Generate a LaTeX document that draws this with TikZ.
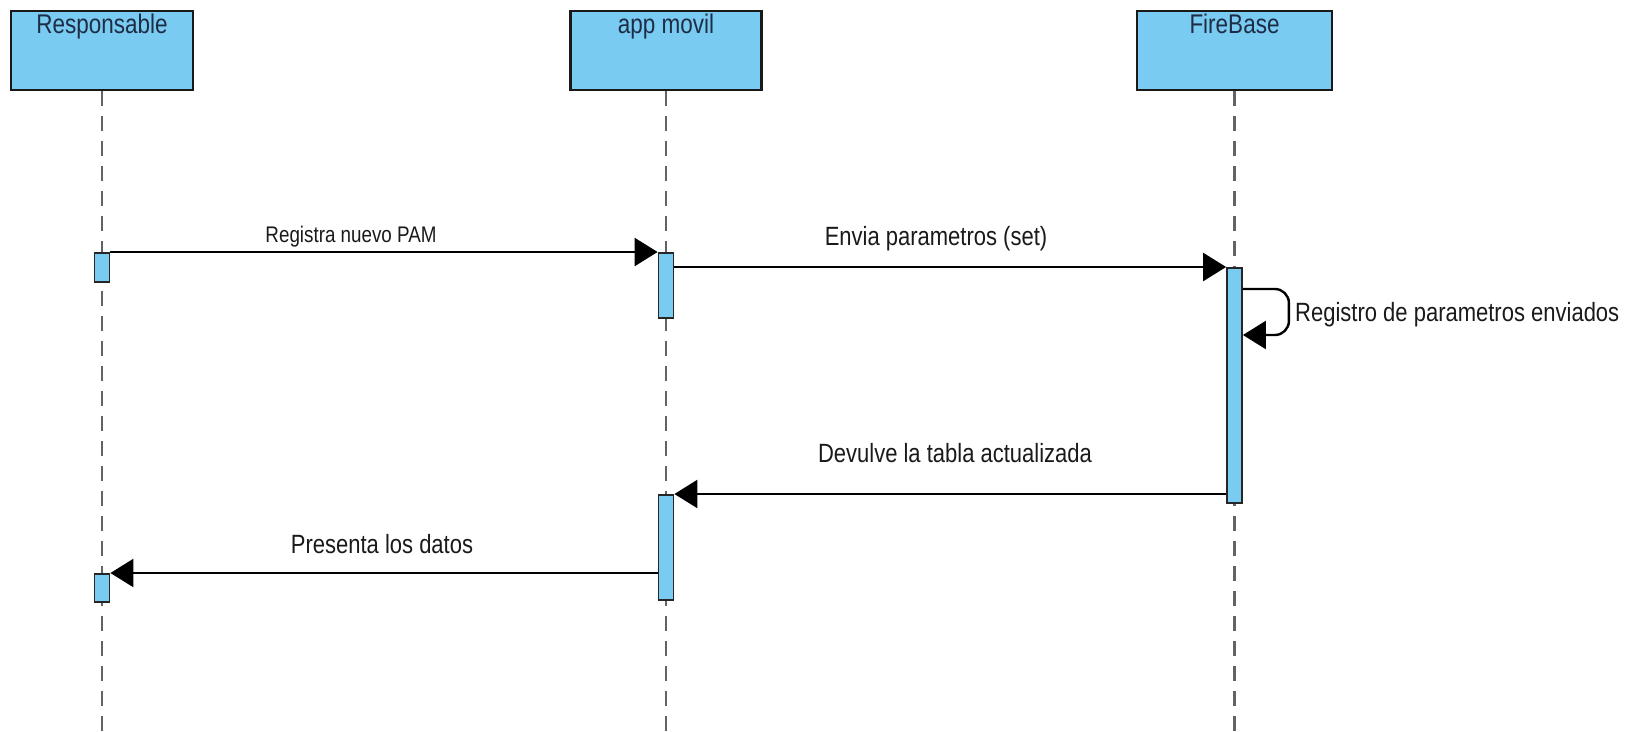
\documentclass[tikz,border=0pt]{standalone}
\usepackage{fontspec}
\setmainfont{Liberation Sans}
\usetikzlibrary{arrows.meta,calc}
\definecolor{boxblue}{HTML}{79CBF1}
\definecolor{headtxt}{HTML}{1E2D45}
\definecolor{msgtxt}{HTML}{1A1A1A}
\definecolor{lifegray}{HTML}{636363}
\newcommand{\stretchtxt}[1]{\scalebox{1}[1.2]{#1}}
\tikzset{
  headbox/.style={draw=black!90, fill=boxblue, line width=2.2pt, inner sep=0pt,
    minimum width=182pt, minimum height=79pt},
  headtext/.style={anchor=base, inner sep=0pt, text=headtxt, font=\fontsize{22.5}{26}\selectfont},
  actbox/.style={draw=black!85, fill=boxblue, line width=1.8pt, inner sep=0pt,
    minimum width=15pt, anchor=north},
  lifeline/.style={draw=lifegray, line width=2.4pt, dash pattern=on 15pt off 10pt},
  msg/.style={draw=black, line width=2.4pt, -{Triangle[length=23pt,width=28pt]}},
  msgtext/.style={anchor=base, inner sep=0pt, text=msgtxt, font=\fontsize{22}{26}\selectfont},
  msgsmall/.style={msgtext, font=\fontsize{18.8}{22}\selectfont}
}
\begin{document}
\begin{tikzpicture}[x=1pt,y=-1pt]
\useasboundingbox (0,0) rectangle (1637,731);
\fill[white] (0,0) rectangle (1637,731);
% heads
\node[headbox] (rsp) at (102,50.5) {};
\node[headbox, minimum width=191pt] (app) at (666,50.5) {};
\node[headbox, minimum width=195pt] (fb) at (1234.5,50.5) {};
\node[headtext] (rspt) at (102,33) {\stretchtxt{Responsable}};
\node[headtext] (appt) at (666,33) {\stretchtxt{app movil}};
\node[headtext] (fbt) at (1234.5,33) {\stretchtxt{FireBase}};
% lifeline ends
\coordinate (rspend) at (102,731);
\coordinate (append) at (666,731);
\coordinate (fbend) at (1234.5,731);
\draw[lifeline] (rsp.south) -- (rspend);
\draw[lifeline] (app.south) -- (append);
\draw[lifeline] (fb.south) -- (fbend);
% activations
\node[actbox, minimum height=29pt] (ra1) at (102,252) {};
\node[actbox, minimum height=65pt] (aa1) at (666,252) {};
\node[actbox, minimum height=235pt] (fa1) at (1234.5,267) {};
\node[actbox, minimum height=105pt] (aa2) at (666,494) {};
\node[actbox, minimum height=28pt] (ra2) at (102,573) {};
% messages
\draw[msg] (ra1.north east) -- (aa1.north west);
\node[msgsmall] (m1) at (351,242) {\stretchtxt{Registra nuevo PAM}};
\draw[msg] (fa1.north -| aa1.east) -- (fa1.north west);
\node[msgtext] (m2) at (936,245) {\stretchtxt{Envia parametros (set)}};
\coordinate (selfa) at ($(fa1.north east)+(0,22)$);
\coordinate (selfb) at ($(fa1.north east)+(0,68)$);
\draw[msg, rounded corners=14pt] (selfa) -- ++(46,0) -- ++(0,46) -- (selfb);
\node[msgtext, anchor=base west] (m3) at (1295,321) {\stretchtxt{Registro de parametros enviados}};
\draw[msg] (fa1.west |- aa2.north) -- (aa2.north east);
\node[msgtext] (m4) at (955,462) {\stretchtxt{Devulve la tabla actualizada}};
\draw[msg] (aa2.west |- ra2.north) -- (ra2.north east);
\node[msgtext] (m5) at (382,553) {\stretchtxt{Presenta los datos}};
\end{tikzpicture}
\end{document}
